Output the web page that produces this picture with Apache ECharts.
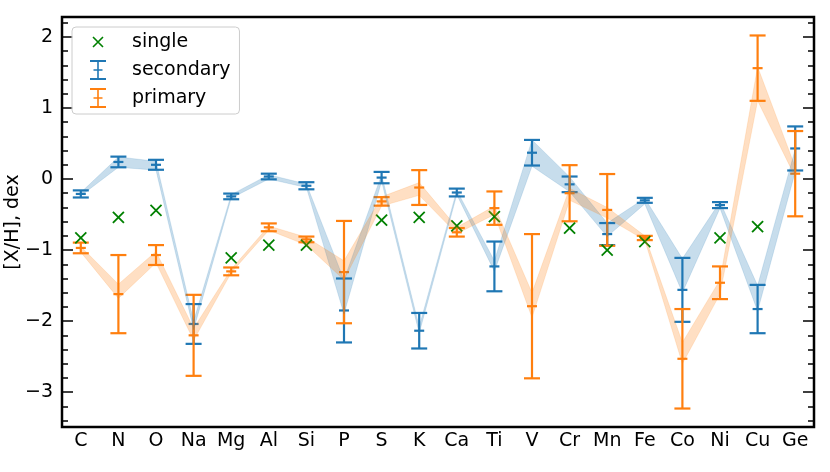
<!DOCTYPE html>
<html lang="en">
<head>
    <meta charset="UTF-8">
    <title>[X/H] abundances</title>
    <script src="https://cdn.jsdelivr.net/npm/echarts@6/dist/echarts.min.js"></script>
</head>
<body style="padding: 0; margin: 0">
    <div id="main" style="width: 830px; height: 472px;"></div>
<script>
    var elements = ['C', 'N', 'O', 'Na', 'Mg', 'Al', 'Si', 'P', 'S', 'K', 'Ca', 'Ti', 'V', 'Cr', 'Mn', 'Fe', 'Co', 'Ni', 'Cu', 'Ge'];

    // single star values (null = not measured)
    var single = [-0.83, -0.54, -0.44, null, -1.11, -0.93, -0.93, null, -0.58, -0.54, -0.66, -0.53, null, -0.69, -1.0, -0.88, null, -0.83, -0.67, null];

    // secondary: value, error, shaded band
    var secondary = [-0.21, 0.24, 0.20, -2.04, -0.245, 0.035, -0.095, -1.85, 0.02, -2.135, -0.19, -1.23, 0.37, -0.075, -0.775, -0.30, -1.56, -0.367, -1.83, 0.43];
    var secondaryErr = [0.05, 0.075, 0.07, 0.28, 0.04, 0.04, 0.05, 0.45, 0.08, 0.25, 0.055, 0.35, 0.18, 0.11, 0.155, 0.035, 0.45, 0.042, 0.34, 0.31];
    var secondaryLo = [-0.235, 0.165, 0.125, -2.12, -0.27, 0.0, -0.12, -1.9, -0.03, -2.17, -0.22, -1.3, 0.18, -0.18, -0.81, -0.35, -1.6, -0.41, -1.86, 0.1];
    var secondaryHi = [-0.19, 0.31, 0.25, -2.0, -0.22, 0.06, -0.07, -1.42, 0.06, -2.08, -0.16, -1.15, 0.55, 0.03, -0.62, -0.27, -1.12, -0.32, -1.5, 0.42];

    // primary: value, error, shaded band
    var primary = [-0.97, -1.62, -1.07, -2.20, -1.30, -0.68, -0.85, -1.31, -0.315, -0.12, -0.75, -0.41, -1.79, -0.20, -0.435, -0.83, -2.53, -1.46, 1.56, 0.075];
    var primaryErr = [0.075, 0.55, 0.14, 0.57, 0.055, 0.055, 0.04, 0.72, 0.06, 0.245, 0.06, 0.235, 1.015, 0.395, 0.505, 0.03, 0.70, 0.23, 0.46, 0.60];
    var primaryLo = [-1.03, -1.68, -1.18, -2.27, -1.32, -0.72, -0.93, -1.42, -0.38, -0.23, -0.77, -0.5, -1.95, -0.3, -0.55, -0.86, -2.6, -1.62, 1.1, 0.03];
    var primaryHi = [-0.95, -1.48, -1.02, -2.10, -1.27, -0.66, -0.82, -1.15, -0.25, -0.05, -0.68, -0.38, -1.6, -0.13, -0.4, -0.8, -2.3, -1.42, 1.58, 0.17];

    var yMajor = [-3, -2, -1, 0, 1, 2];
    var yTitle = '[X/H], dex';

    var yMinor = [];
    for (var t = -34; t <= 22; t += 2) {
        if (t % 10 !== 0) yMinor.push(t / 10);
    }

    var BLUE = '#1f77b4', ORANGE = '#ff7f0e', GREEN = '#008000';
    var FONT = 'DejaVu Sans';
    var FS = 19;

    function errorBarItem(color) {
        return function (params, api) {
            var x = api.value(0), v = api.value(1), e = api.value(2);
            var hi = api.coord([x, v + e]);
            var lo = api.coord([x, v - e]);
            var c = api.coord([x, v]);
            var st = { stroke: color, lineWidth: 2.2 };
            return {
                type: 'group',
                children: [
                    { type: 'line', shape: { x1: hi[0], y1: hi[1], x2: lo[0], y2: lo[1] }, style: st },
                    { type: 'line', shape: { x1: hi[0] - 8, y1: hi[1], x2: hi[0] + 8, y2: hi[1] }, style: st },
                    { type: 'line', shape: { x1: lo[0] - 8, y1: lo[1], x2: lo[0] + 8, y2: lo[1] }, style: st },
                    { type: 'line', shape: { x1: c[0] - 5, y1: c[1], x2: c[0] + 5, y2: c[1] }, style: st }
                ]
            };
        };
    }

    function crossItem(params, api) {
        var c = api.coord([api.value(0), api.value(1)]);
        var r = 5.5;
        var st = { stroke: GREEN, lineWidth: 1.8 };
        return {
            type: 'group',
            children: [
                { type: 'line', shape: { x1: c[0] - r, y1: c[1] - r, x2: c[0] + r, y2: c[1] + r }, style: st },
                { type: 'line', shape: { x1: c[0] + r, y1: c[1] - r, x2: c[0] - r, y2: c[1] + r }, style: st }
            ]
        };
    }

    function bandSeries(stackName, lo, hi, rgba) {
        var diff = hi.map(function (h, i) { return +(h - lo[i]).toFixed(3); });
        var common = {
            type: 'line', stack: stackName, stackStrategy: 'all',
            symbol: 'none', silent: true, smooth: false,
            lineStyle: { color: rgba, width: 0.6 }
        };
        return [
            Object.assign({ name: stackName + '-lo', data: lo }, common),
            Object.assign({ name: stackName + '-hi', data: diff, areaStyle: { color: rgba, opacity: 1 } }, common)
        ];
    }

    var secData = secondary.map(function (v, i) { return [i, v, secondaryErr[i]]; });
    var priData = primary.map(function (v, i) { return [i, v, primaryErr[i]]; });
    var singleData = [];
    single.forEach(function (v, i) { if (v !== null) singleData.push([i, v]); });

    var ebIcon = 'path://M1,0h16v2h-16z M8.2,0h1.6v20h-1.6z M1,18h16v2h-16z M4.5,9.2h9v1.6h-9z';
    var xIcon = 'path://M0,0L0,0M18,20L18,20 M4.57,4.43L14.57,14.43L13.43,15.57L3.43,5.57Z M14.57,5.57L4.57,15.57L3.43,14.43L13.43,4.43Z';

    function yAxisDef(pos, ticks, len, withLabel) {
        var ax = {
            type: 'value', position: pos, min: -3.49, max: 2.28,
            axisLine: { show: false },
            splitLine: { show: false },
            axisTick: { show: true, inside: true, length: len, customValues: ticks, lineStyle: { color: '#000', width: 1.5 } },
            axisLabel: { show: false }
        };
        if (withLabel) {
            ax.axisLabel = {
                show: true, customValues: yMajor, margin: 9,
                fontSize: FS, fontFamily: FONT, color: '#000',
                formatter: function (v) { return v < 0 ? '\u2212' + Math.abs(v) : String(v); }
            };
        }
        return ax;
    }

    var myChart = echarts.init(document.getElementById('main'));
    var option = {
        animation: false,
        grid: {
            left: 62, right: 16, top: 17, bottom: 45,
            outerBoundsMode: 'none', containLabel: false,
            show: true, borderColor: '#000', borderWidth: 2.5
        },
        graphic: [{
            type: 'text', x: 13, y: 222, rotation: Math.PI / 2, silent: true,
            style: {
                text: yTitle, fontSize: FS, fontFamily: FONT, fill: '#000',
                textAlign: 'center', textVerticalAlign: 'middle'
            }
        }],
        legend: {
            orient: 'vertical', left: 72, top: 27,
            itemWidth: 18, itemHeight: 20, itemGap: 8,
            padding: [5, 9, 6, 17],
            backgroundColor: 'rgba(255,255,255,0.8)',
            borderColor: '#cccccc', borderWidth: 1, borderRadius: 4,
            textStyle: { fontSize: FS, fontFamily: FONT, color: '#000', padding: [0, 0, 0, 20] },
            data: [
                { name: 'single', icon: xIcon },
                { name: 'secondary', icon: ebIcon },
                { name: 'primary', icon: ebIcon }
            ]
        },
        xAxis: [
            {
                type: 'category', data: elements, boundaryGap: true, position: 'bottom',
                axisLine: { show: false },
                axisTick: { inside: true, alignWithLabel: true, length: 11, lineStyle: { color: '#000', width: 1.5 } },
                axisLabel: { interval: 0, margin: 5, fontSize: FS, fontFamily: FONT, color: '#000' },
                splitLine: { show: false }
            },
            {
                type: 'category', data: elements, boundaryGap: true, position: 'top',
                axisLine: { show: false },
                axisTick: { inside: true, alignWithLabel: true, length: 11, lineStyle: { color: '#000', width: 1.5 } },
                axisLabel: { show: false },
                splitLine: { show: false }
            }
        ],
        yAxis: [
            yAxisDef('left', yMajor, 11, true),
            yAxisDef('left', yMinor, 6, false),
            yAxisDef('right', yMajor, 11, false),
            yAxisDef('right', yMinor, 6, false)
        ],
        series: [].concat(
            bandSeries('secBand', secondaryLo, secondaryHi, 'rgba(31,119,180,0.25)'),
            bandSeries('priBand', primaryLo, primaryHi, 'rgba(255,127,14,0.25)'),
            [
                { name: 'secondary', type: 'custom', renderItem: errorBarItem(BLUE), data: secData, encode: { x: 0, y: 1 }, itemStyle: { color: BLUE } },
                { name: 'primary', type: 'custom', renderItem: errorBarItem(ORANGE), data: priData, encode: { x: 0, y: 1 }, itemStyle: { color: ORANGE } },
                { name: 'single', type: 'custom', renderItem: crossItem, data: singleData, encode: { x: 0, y: 1 }, itemStyle: { color: GREEN } }
            ]
        )
    };
    myChart.setOption(option);
</script>
</body>
</html>
